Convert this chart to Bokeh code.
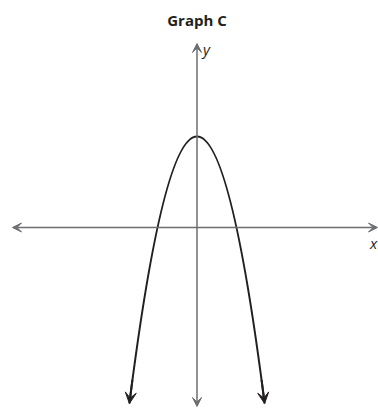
from bokeh.plotting import figure
from bokeh.models import Arrow, VeeHead, Range1d
from bokeh.core.properties import value
from bokeh.embed import file_html
from bokeh.resources import INLINE

# Data (units: 1 = one grid step)
title_text = "Graph C"
x_axis_extent = [-9.225, 9.025]   # horizontal axis from left arrow tip to right arrow tip
y_axis_extent = [-8.95, 9.2]      # vertical axis from bottom arrow tip to top arrow tip
vertex = [0.0, 4.55]              # top of the parabola
end_left = [-3.38, -8.8]          # left end (arrow tip)
end_right = [3.38, -8.8]          # right end (arrow tip)
axis_labels = ["x", "y"]

AXIS_COLOR = "#6d6e71"
CURVE_COLOR = "#231f20"

p = figure(width=378, height=413, output_backend="svg", toolbar_location=None,
           x_range=Range1d(-9.825, 9.075), y_range=Range1d(-9.3, 11.35),
           min_border=0)
p.axis.visible = False
p.grid.visible = False
p.outline_line_color = None

# Axes with arrow heads at both ends
p.add_layout(Arrow(start=VeeHead(size=9, fill_color=AXIS_COLOR, line_color=AXIS_COLOR),
                   end=VeeHead(size=9, fill_color=AXIS_COLOR, line_color=AXIS_COLOR),
                   x_start=x_axis_extent[0], y_start=0, x_end=x_axis_extent[1], y_end=0,
                   line_color=AXIS_COLOR, line_width=1.5))
p.add_layout(Arrow(start=VeeHead(size=9, fill_color=AXIS_COLOR, line_color=AXIS_COLOR),
                   end=VeeHead(size=9, fill_color=AXIS_COLOR, line_color=AXIS_COLOR),
                   x_start=0, y_start=y_axis_extent[0], x_end=0, y_end=y_axis_extent[1],
                   line_color=AXIS_COLOR, line_width=1.5))

# Parabola as a quadratic Bezier (exact for a parabola)
cy = 2 * vertex[1] - end_left[1]
p.quadratic(x0=[end_left[0]], y0=[end_left[1]], x1=[end_right[0]], y1=[end_right[1]],
            cx=[vertex[0]], cy=[cy], line_color=CURVE_COLOR, line_width=2)

# Arrow heads at curve ends, along the tangent
k = (vertex[1] - end_left[1]) / (end_left[0] - vertex[0]) ** 2
for ex, ey in (end_left, end_right):
    slope = -2 * k * (ex - vertex[0])
    d = 0.15 if ex < 0 else -0.15
    p.add_layout(Arrow(end=VeeHead(size=11, fill_color=CURVE_COLOR, line_color=CURVE_COLOR),
                       x_start=ex + d, y_start=ey + slope * d, x_end=ex, y_end=ey,
                       line_color=CURVE_COLOR, line_width=2))

# Texts
p.text(x=[0], y=[10.4], text=[title_text], text_font=value("Open Sans"),
       text_font_style="bold", text_font_size="15px", text_align="center",
       text_baseline="middle", text_color="#231f20")
p.text(x=[0.3], y=[8.95], text=[axis_labels[1]], text_font=value("Open Sans"),
       text_font_style="italic", text_font_size="15px", text_align="left",
       text_baseline="middle", text_color="#231f20")
p.text(x=[8.65], y=[-0.75], text=[axis_labels[0]], text_font=value("Open Sans"),
       text_font_style="italic", text_font_size="15px", text_align="left",
       text_baseline="middle", text_color="#231f20")

open("out.html", "w").write(file_html(p, INLINE))
